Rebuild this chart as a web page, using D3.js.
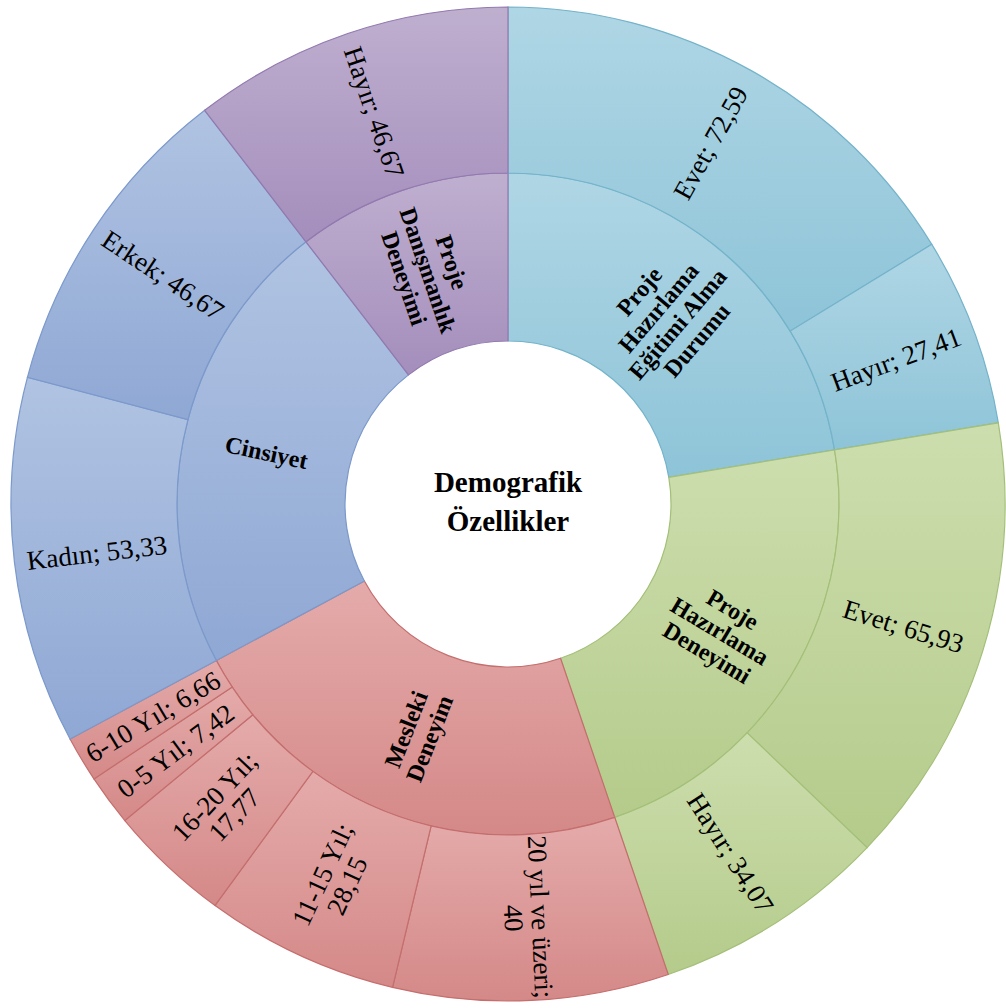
<!DOCTYPE html>
<html>
<head>
<meta charset="utf-8">
<script src="https://cdn.jsdelivr.net/npm/d3@7"></script>
<style>
  html, body { margin: 0; padding: 0; background: #fff; }
  svg { display: block; }
</style>
</head>
<body>
<script>
// Inner ring: the demographic groups, clockwise from 12 o'clock
const groupNames = [
  "Proje Hazırlama Eğitimi Alma Durumu",
  "Proje Hazırlama Deneyimi",
  "Mesleki Deneyim",
  "Cinsiyet",
  "Proje Danışmanlık Deneyimi"
];
// Gradient stops (top, bottom) and edge colour for each group
const groupTop    = ["#afd6e5", "#cddeae", "#e4abaa", "#b0c3e2", "#bfafcf"];
const groupBottom = ["#8ec4d8", "#b4cb8b", "#d48988", "#8fa8d4", "#a48ebc"];
const groupStroke = ["#74b3ca", "#a3bf78", "#c46e6d", "#7b99cb", "#9279af"];

// Outer ring: answers within each group (percent)
const leafGroup  = [0, 0, 1, 1, 2, 2, 2, 2, 2, 3, 3, 4];
const leafNames  = ["Evet", "Hayır", "Evet", "Hayır",
                    "20 yıl ve üzeri", "11-15 Yıl", "16-20 Yıl", "0-5 Yıl", "6-10 Yıl",
                    "Kadın", "Erkek", "Hayır"];
const leafValues = [72.59, 27.41, 65.93, 34.07,
                    40, 28.15, 17.77, 7.42, 6.66,
                    53.33, 46.67, 46.67];

const centerLines = ["Demografik", "Özellikler"];

const W = 1006, H = 1008;
const cx = 508, cy = 504;
const FONT = "'Liberation Serif', 'Times New Roman', Times, serif";

const svg = d3.select("body").append("svg")
  .attr("width", W).attr("height", H);
const defs = svg.append("defs");
const g = svg.append("g").attr("transform", `translate(${cx},${cy})`);

// Hierarchy built from the arrays above
const tree = {
  name: "root",
  children: groupNames.map((name, i) => ({
    name, group: i,
    children: leafNames
      .map((n, j) => ({ name: n, value: leafValues[j], group: leafGroup[j] }))
      .filter(d => d.group === i)
  }))
};
const root = d3.hierarchy(tree).sum(d => d.value || 0);
d3.partition().size([2 * Math.PI, 3])(root);

// depth bands -> pixel radii (hole, inner ring, outer ring)
const radius = d3.scaleLinear().domain([1, 2, 3]).range([163, 331, 497]);

const arc = d3.arc()
  .startAngle(d => d.x0)
  .endAngle(d => d.x1)
  .innerRadius(d => radius(d.y0))
  .outerRadius(d => radius(d.y1));

const nodes = root.descendants().filter(d => d.depth > 0);

// one vertical gradient per segment
nodes.forEach((d, i) => {
  const gi = d.data.group;
  const lg = defs.append("linearGradient")
    .attr("id", "seg" + i)
    .attr("x1", 0).attr("y1", 0).attr("x2", 0).attr("y2", 1);
  lg.append("stop").attr("offset", "0%").attr("stop-color", groupTop[gi]);
  lg.append("stop").attr("offset", "100%").attr("stop-color", groupBottom[gi]);
});

g.selectAll("path.seg")
  .data(nodes)
  .join("path")
  .attr("class", "seg")
  .attr("d", arc)
  .attr("fill", (d, i) => `url(#seg${i})`)
  .attr("stroke", d => groupStroke[d.data.group])
  .attr("stroke-width", 1.2);

// helpers for labels
const fmt = v => String(v).replace(".", ",");

function measure(text, size, weight) {
  const t = g.append("text")
    .attr("font-family", FONT).attr("font-size", size).attr("font-weight", weight)
    .text(text);
  const w = t.node().getComputedTextLength();
  t.remove();
  return w;
}

function wrapWords(text, size, weight, maxW) {
  const words = text.split(" ");
  const lines = [];
  let cur = "";
  words.forEach(w => {
    const test = cur ? cur + " " + w : w;
    if (cur && measure(test, size, weight) > maxW) {
      lines.push(cur);
      cur = w;
    } else {
      cur = test;
    }
  });
  if (cur) lines.push(cur);
  return lines;
}

function placeLabel(d, lines, size, weight, lh) {
  const a = (d.x0 + d.x1) / 2;
  const r = (radius(d.y0) + radius(d.y1)) / 2;
  const x = r * Math.sin(a), y = -r * Math.cos(a);
  let rot = a * 180 / Math.PI - 90;
  if (a > Math.PI) rot += 180;
  const t = g.append("text")
    .attr("transform", `translate(${x},${y}) rotate(${rot})`)
    .attr("text-anchor", "middle")
    .attr("font-family", FONT)
    .attr("font-size", size)
    .attr("font-weight", weight)
    .attr("fill", "#000");
  const n = lines.length;
  lines.forEach((line, k) => {
    t.append("tspan")
      .attr("x", 0)
      .attr("dy", k === 0 ? (-(n - 1) / 2 * lh + 0.35) + "em" : lh + "em")
      .text(line);
  });
}

// inner ring labels (group names, bold, word-wrapped)
nodes.filter(d => d.depth === 1).forEach(d => {
  placeLabel(d, wrapWords(d.data.name, 24, "bold", 150), 24, "bold", 1.05);
});

// outer ring labels ("name; value", broken after the semicolon when too long)
nodes.filter(d => d.depth === 2).forEach(d => {
  const full = `${d.data.name}; ${fmt(d.data.value)}`;
  const lines = measure(full, 27, "normal") > 160
    ? [`${d.data.name};`, fmt(d.data.value)]
    : [full];
  placeLabel(d, lines, 27, "normal", 1.0);
});

// centre title
const ct = g.append("text")
  .attr("text-anchor", "middle")
  .attr("font-family", FONT)
  .attr("font-size", 29)
  .attr("font-weight", "bold")
  .attr("fill", "#000");
centerLines.forEach((line, k) => {
  ct.append("tspan")
    .attr("x", 0)
    .attr("y", -12 + k * 39)
    .text(line);
});
</script>
</body>
</html>
